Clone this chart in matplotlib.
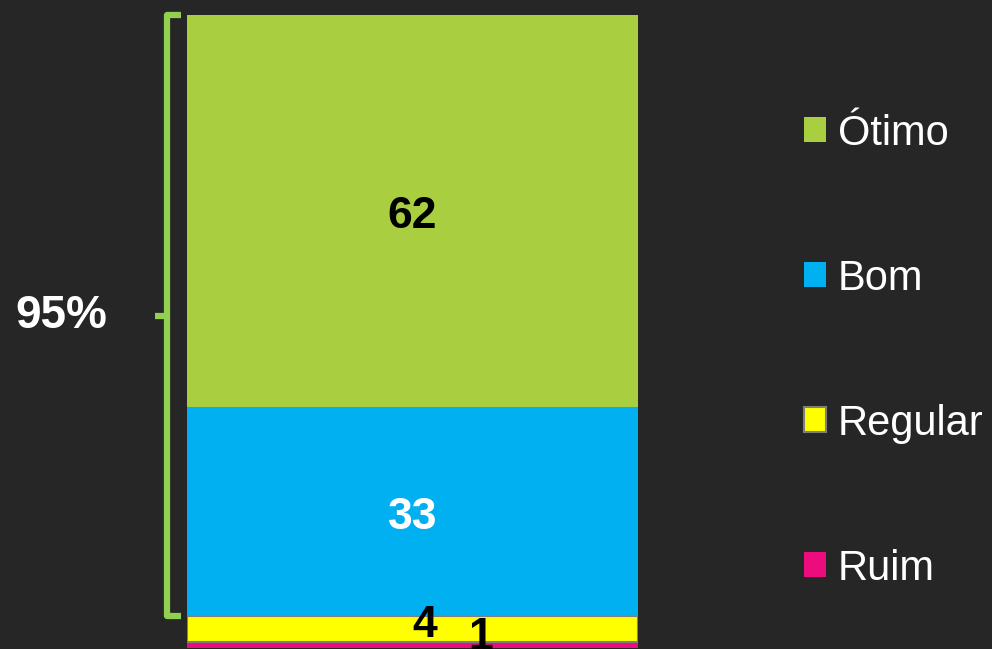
import matplotlib.pyplot as plt
import matplotlib.transforms as mtransforms

# Dados
categorias = ['Ruim', 'Regular', 'Bom', 'Ótimo']
valores = [1, 4, 33, 62]
cores = ['#EC0C7E', '#FFFF00', '#00B0F0', '#A9CE40']
bordas = ['none', '#7F7F7F', 'none', 'none']
cor_rotulo = ['black', 'black', 'white', 'black']
chave_total = '95%'

plt.rcParams['font.family'] = ['Liberation Sans', 'DejaVu Sans']

fig = plt.figure(figsize=(9.92, 6.49), dpi=100)
fig.patch.set_facecolor('#262626')
ax = fig.add_axes([0.1885, 0.0015, 0.4547, 0.9753])
ax.set_facecolor('#262626')

base = 0
barras = []
for cat, v, c, e in zip(categorias, valores, cores, bordas):
    b = ax.bar(0, v, width=1, bottom=base, color=c, edgecolor=e,
               linewidth=1.5 if e != 'none' else 0, label=cat)
    barras.append(b)
    base += v

ax.set_xlim(-0.5, 0.5)
ax.set_ylim(0, sum(valores))
ax.axis('off')

# Rótulos dos segmentos
ax.text(0.15, 1.7, str(valores[0]), ha='center', va='center', fontsize=32,
        fontweight='bold', color=cor_rotulo[0], clip_on=False)
ax.text(0.028, 3.6, str(valores[1]), ha='center', va='center', fontsize=32,
        fontweight='bold', color=cor_rotulo[1])
ax.text(0, valores[0] + valores[1] + valores[2] / 2 - 0.9, str(valores[2]), ha='center',
        va='center', fontsize=32, fontweight='bold', color=cor_rotulo[2])
ax.text(0, 100 - valores[3] / 2 - 0.8, str(valores[3]), ha='center', va='center',
        fontsize=32, fontweight='bold', color=cor_rotulo[3])

# Chave verde (95%)
trans = mtransforms.blended_transform_factory(ax.transAxes, ax.transData)
y_ini = valores[0] + valores[1]
y_fim = sum(valores)
y_meio = (y_ini + y_fim) / 2
verde = '#92D050'
ax.plot([-0.0133, -0.0443, -0.0443, -0.0133], [y_ini, y_ini, y_fim, y_fim],
        color=verde, lw=4.5, transform=trans, clip_on=False,
        solid_joinstyle='round', solid_capstyle='butt')
ax.plot([-0.0443, -0.071], [y_meio, y_meio], color=verde, lw=4.5,
        transform=trans, clip_on=False, solid_capstyle='butt')
ax.text(-0.279, y_meio, chave_total, transform=trans, ha='center', va='center',
        fontsize=33, fontweight='bold', color='white')

# Legenda
handles = [b[0] for b in barras][::-1]
labels = categorias[::-1]
leg = fig.legend(handles, labels, loc='center left', bbox_to_anchor=(0.810, 0.459),
                 frameon=False, fontsize=30, labelcolor='white',
                 handlelength=0.55, handleheight=0.55, handletextpad=0.27,
                 labelspacing=2.52, borderpad=0, borderaxespad=0)

fig.savefig('out.png', dpi=100, facecolor=fig.get_facecolor())
